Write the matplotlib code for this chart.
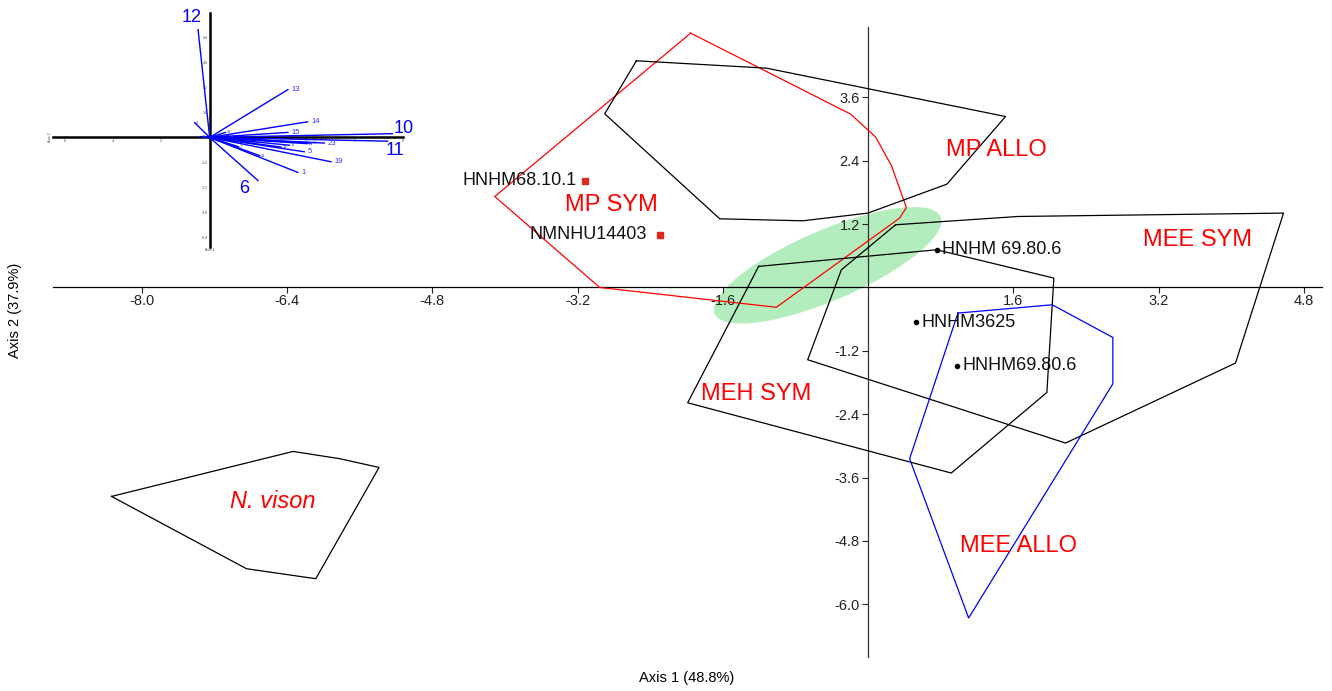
import numpy as np
import matplotlib
matplotlib.use("Agg")
import matplotlib.pyplot as plt

plt.rcParams['font.family'] = ['Liberation Sans', 'DejaVu Sans']

# --- convex hulls of the groups (PCA scores, axis 1 / axis 2) ---
mp_x = [-1.955, -0.193, 0.083, 0.256, 0.421, 0.347, -1.011, -2.957, -4.113]
mp_y = [4.818, 3.284, 2.848, 2.311, 1.515, 1.314, -0.375, 0.0, 1.723]

mp_allo_x = [-2.553, -1.121, 1.514, 0.868, -0.002, -0.718, -1.635, -2.902]
mp_allo_y = [4.294, 4.155, 3.239, 1.958, 1.409, 1.263, 1.301, 3.290]

mee_sym_x = [0.303, 1.650, 4.576, 4.047, 2.175, -0.666, -0.295]
mee_sym_y = [1.188, 1.345, 1.409, -1.432, -2.947, -1.369, 0.335]

meh_sym_x = [-1.206, 0.754, 2.046, 1.969, 0.916, -1.988]
meh_sym_y = [0.400, 0.714, 0.178, -1.989, -3.515, -2.184]

mee_allo_x = [0.989, 2.028, 2.696, 2.696, 1.107, 0.457]
mee_allo_y = [-0.485, -0.328, -0.947, -1.824, -6.261, -3.244]

vison_x = [-8.335, -6.335, -5.820, -5.388, -6.085, -6.848]
vison_y = [-3.958, -3.106, -3.244, -3.409, -5.517, -5.328]

# group names and where they are written
group_names = ['MP ALLO', 'MP SYM', 'MEE SYM', 'MEH SYM', 'MEE ALLO', 'N. vison']
group_lab_x = [1.41, -2.833, 3.634, -1.228, 1.657, -6.555]
group_lab_y = [2.61, 1.566, 0.903, -2.013, -4.905, -4.053]

# individual specimens
sq_names = ['HNHM68.10.1', 'NMNHU14403']
sq_x = [-3.115, -2.289]
sq_y = [2.021, 0.998]

dot_names = ['HNHM 69.80.6', 'HNHM3625', 'HNHM69.80.6']
dot_x = [0.757, 0.531, 0.978]
dot_y = [0.714, -0.663, -1.483]

# confidence ellipse: centre and the two semi-axis vectors
ell_center = (-0.446, 0.420)
ell_major = (1.244, 0.919)
ell_minor = (0.152, -0.610)

# --- loadings for the inset biplot ---
vec_names = ['12', '13', '14', '15', '10', '11', '23', '5', '19', '1', '6',
             '18', '21', '22', '4', '20', '24', '9', '3', '7', '17', '16', '2', '8']
vec_x = [-0.48, 3.24, 4.06, 3.24, 7.57, 7.37, 4.75, 3.92, 5.03, 3.65, 2.00,
         2.96, 2.07, 0.65, -0.62, 4.20, 4.05, 3.95, 1.86, 1.20, 3.30, -0.40, 0.80, 1.00]
vec_y = [6.90, 3.06, 1.00, 0.32, 0.24, -0.24, -0.36, -0.92, -1.56, -2.24, -2.76,
         -0.62, -1.17, 0.32, 0.94, -0.37, -0.40, -0.33, -0.28, -0.60, -0.50, 0.05, 0.10, -0.20]

xticks = [-8.0, -6.4, -4.8, -3.2, -1.6, 1.6, 3.2, 4.8]
yticks = [3.6, 2.4, 1.2, -1.2, -2.4, -3.6, -4.8, -6.0]

fig = plt.figure(figsize=(13.32, 6.91), dpi=100)
ax = fig.add_axes([53 / 1332, 1 - 657 / 691, 1269 / 1332, 630.3 / 691])
ax.set_xlim(-8.98, 5.0)
ax.set_ylim(-7.0, 4.94)

for s in ['top', 'right']:
    ax.spines[s].set_visible(False)
ax.spines['left'].set_position(('data', 0))
ax.spines['bottom'].set_position(('data', 0))
ax.spines['left'].set_color('#333333')
ax.spines['left'].set_linewidth(0.9)
ax.spines['bottom'].set_linewidth(0.9)

ax.set_xticks(xticks)
ax.set_xticklabels([f'{v:.1f}' for v in xticks])
ax.set_yticks(yticks)
ax.set_yticklabels([f'{v:.1f}' for v in yticks])
ax.tick_params(direction='out', length=4, width=0.8, labelsize=10.5,
               colors='#222222')
ax.tick_params(axis='x', pad=0.5)
ax.tick_params(axis='y', pad=2)

# ellipse
t = np.linspace(0, 2 * np.pi, 200)
ex = ell_center[0] + np.cos(t) * ell_major[0] + np.sin(t) * ell_minor[0]
ey = ell_center[1] + np.cos(t) * ell_major[1] + np.sin(t) * ell_minor[1]
ax.fill(ex, ey, color='#b3edbd', lw=0, zorder=1)

# hulls
hulls = [(mp_x, mp_y, '#ff0000'), (mp_allo_x, mp_allo_y, 'black'),
         (mee_sym_x, mee_sym_y, 'black'), (meh_sym_x, meh_sym_y, 'black'),
         (mee_allo_x, mee_allo_y, '#0000ff'), (vison_x, vison_y, 'black')]
for hx, hy, c in hulls:
    ax.plot(hx + hx[:1], hy + hy[:1], color=c, lw=0.9, zorder=3)

for name, x, y in zip(group_names, group_lab_x, group_lab_y):
    style = 'italic' if name.startswith('N.') else 'normal'
    ax.text(x, y, name, color='#ff0000', fontsize=17, style=style,
            ha='center', va='center', zorder=4)

ax.plot(sq_x, sq_y, 's', color='#dd2a1f', ms=5, zorder=5)
sq_off = [-6, -10]
for name, x, y, o in zip(sq_names, sq_x, sq_y, sq_off):
    ax.annotate(name, (x, y), xytext=(o, 0), textcoords='offset points',
                ha='right', va='center', fontsize=13, color='#111111', zorder=5)

ax.plot(dot_x, dot_y, 'o', color='black', ms=3, zorder=5)
for name, x, y in zip(dot_names, dot_x, dot_y):
    ax.annotate(name, (x, y), xytext=(4, 0), textcoords='offset points',
                ha='left', va='center', fontsize=13, color='#111111', zorder=5)

fig.text(687 / 1332, 1 - 678 / 691, 'Axis 1 (48.8%)', ha='center', va='center',
         fontsize=10.5)
fig.text(15 / 1332, 1 - 310 / 691, 'Axis 2 (37.9%)', ha='center', va='center',
         fontsize=10.5, rotation=90)

# --- inset biplot ---
ins = fig.add_axes([53.3 / 1332, 1 - 246.7 / 691, 349.4 / 1332, 233.4 / 691])
ins.set_facecolor('none')
ins.set_xlim(-6.48, 7.96)
ins.set_ylim(-7.0, 7.95)
for s in ['top', 'right']:
    ins.spines[s].set_visible(False)
ins.spines['left'].set_position(('data', 0))
ins.spines['bottom'].set_position(('data', 0))
ins.spines['left'].set_linewidth(1.8)
ins.spines['bottom'].set_linewidth(1.8)
ins.set_xticks([-6, -4, -2, 2, 4, 6, 8])
ins.set_xticklabels(['-6', '-4', '-2', '2', '4', '6', '8'])
ins.set_yticks([6.4, 4.8, 3.2, 1.6, -1.6, -3.2, -4.8, -6.4])
ins.set_yticklabels(['6.4', '4.8', '3.2', '1.6', '-1.6', '-3.2', '-4.8', '-6.4'])
ins.tick_params(length=0, labelsize=2.5, pad=1.5, colors='#444444')
ins.text(-6.55, 0, 'Axis 2', rotation=90, fontsize=2.5, ha='right', va='center',
         color='#444444')
ins.text(0, -7.1, 'Axis 1', fontsize=2.5, ha='center', va='top', color='#444444')

big = {'12': (-4.8, 9, 'center'), '10': (8.5, 4, 'center'),
       '11': (5, -6.5, 'center'), '6': (-10, -6, 'center')}
medium = ['13', '14', '15', '23', '5', '19', '1']
for name, x, y in zip(vec_names, vec_x, vec_y):
    ins.plot([0, x], [0, y], color='#0000ff', lw=1.0, zorder=3)
    if name in big:
        dx, dy, ha = big[name]
        ins.annotate(name, (x, y), xytext=(dx, dy), textcoords='offset points',
                     ha=ha, va='center', fontsize=13, color='#0000ff')
    elif name in medium:
        ins.annotate(name, (x, y), xytext=(2.5, 0), textcoords='offset points',
                     ha='left', va='center', fontsize=5.5, color='#3333ff')
    else:
        ins.annotate(name, (x, y), xytext=(1, 0), textcoords='offset points',
                     ha='left', va='center', fontsize=3, color='#3333ff')

fig.savefig('out.png', dpi=100)
